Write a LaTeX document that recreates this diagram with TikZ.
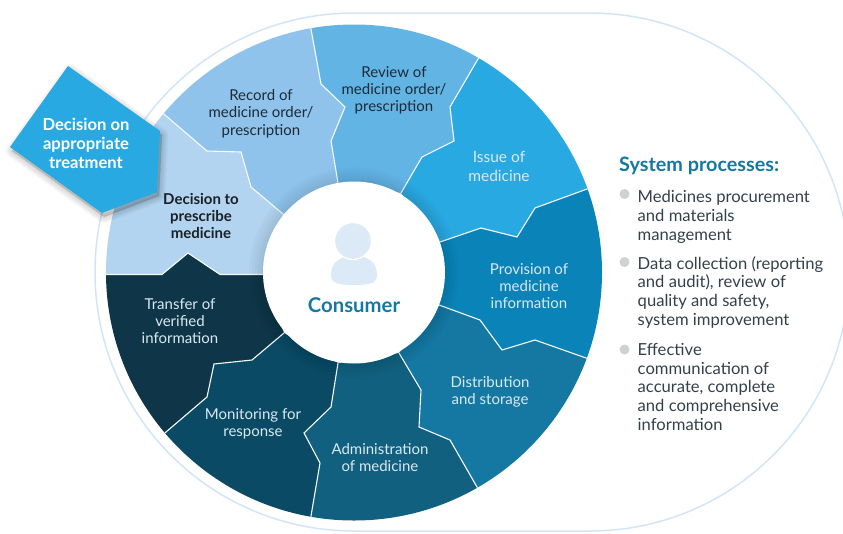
\documentclass[tikz,border=0pt]{standalone}
\usepackage{fontspec}
\setmainfont{Lato}
\definecolor{secdecision}{HTML}{B2D4F0}
\definecolor{secrecord}{HTML}{8FC3EC}
\definecolor{secreview}{HTML}{62B4E5}
\definecolor{secissue}{HTML}{29A9E1}
\definecolor{secprovision}{HTML}{0A84B8}
\definecolor{secdistribution}{HTML}{1478A3}
\definecolor{secadmin}{HTML}{12607F}
\definecolor{secmonitor}{HTML}{0B4A64}
\definecolor{sectransfer}{HTML}{0F3648}
\definecolor{ringline}{HTML}{D3E5F5}
\definecolor{iconblue}{HTML}{DCE9F7}
\definecolor{bulletgrey}{HTML}{CFD1D3}
\definecolor{textdark}{HTML}{1C2B36}
\definecolor{textlight}{HTML}{D8E9F1}
\tikzset{
  sepline/.style={draw=white!90!secdecision, line width=1.1pt, line join=miter},
  seclabel/.style={align=center, font=\fontsize{15}{17.3}\selectfont, inner sep=0pt},
  listitem/.style={align=left, anchor=north west, inner sep=0pt, text=textdark!90!white,
    font=\fontsize{16.6}{18.8}\selectfont},
  bulletdot/.style={circle, fill=bulletgrey, minimum size=10pt, inner sep=0pt}
}
\begin{document}
\begin{tikzpicture}[x=1pt, y=-1pt]
  \useasboundingbox (0,0) rectangle (843,533);

  % Outer stadium line
  \draw[ringline, line width=1.5pt] (354,13) -- (590,13) arc[start angle=90, delta angle=-180, radius=259pt]
    -- (354,531) arc[start angle=270, delta angle=-180, radius=259pt];

  % Boundaries between sectors: far point, rim, bends, hub
  \path (118,76) coordinate (b10) (165,115) coordinate (b11) (207,151) coordinate (b12) (241,152) coordinate (b13) (251,187) coordinate (b14) (283,214) coordinate (b15);
  \path (300,-32) coordinate (b20) (311,29) coordinate (b21) (321,84) coordinate (b22) (345,107) coordinate (b23) (331,141) coordinate (b24) (338,183) coordinate (b25);
  \path (509,6) coordinate (b30) (478,59) coordinate (b31) (450,107) coordinate (b32) (454,141) coordinate (b33) (422,157) coordinate (b34) (401,193) coordinate (b35);
  \path (645,168) coordinate (b40) (587,189) coordinate (b41) (535,208) coordinate (b42) (517,237) coordinate (b43) (481,228) coordinate (b44) (440,242) coordinate (b45);
  \path (644,379) coordinate (b50) (586,358) coordinate (b51) (535,340) coordinate (b52) (502,350) coordinate (b53) (480,320) coordinate (b54) (439,305) coordinate (b55);
  \path (508,541) coordinate (b60) (477,487) coordinate (b61) (450,440) coordinate (b62) (419,427) coordinate (b63) (421,390) coordinate (b64) (399,353) coordinate (b65);
  \path (300,577) coordinate (b70) (311,516) coordinate (b71) (320,463) coordinate (b72) (304,433) coordinate (b73) (331,407) coordinate (b74) (338,363) coordinate (b75);
  \path (119,472) coordinate (b80) (166,432) coordinate (b81) (207,397) coordinate (b82) (214,364) coordinate (b83) (252,360) coordinate (b84) (284,333) coordinate (b85);
  \path (44,274.5) coordinate (b90) (106,274.5) coordinate (b91) (162,274.5) coordinate (b92) (188,253) coordinate (b93) (220,274.5) coordinate (b94) (263,274.5) coordinate (b95);

  % Sectors, cut to the disc
  \begin{scope}
    \clip (354,272.5) circle (248pt);
    \foreach \i/\j/\col in {1/2/secrecord, 2/3/secreview, 3/4/secissue, 4/5/secprovision, 5/6/secdistribution,
        6/7/secadmin, 7/8/secmonitor, 8/9/sectransfer, 9/1/secdecision}
      \fill[\col] (b\i0) -- (b\i1) -- (b\i2) -- (b\i3) -- (b\i4) -- (b\i5)
        -- (b\j5) -- (b\j4) -- (b\j3) -- (b\j2) -- (b\j1) -- (b\j0) -- cycle;
    \foreach \i in {1,...,9}
      \draw[sepline] (b\i0) -- (b\i1) -- (b\i2) -- (b\i3) -- (b\i4) -- (b\i5);
    % Soft shade round the hub
    \foreach \r in {93,96,...,105}
      \fill[black, opacity=.018] (354,272.5) circle (\r pt);
  \end{scope}

  % Hub
  \fill[white] (354,272.5) circle (91pt);
  \fill[iconblue] (331,275) .. controls (331,262) and (340,256) .. (354,256)
    .. controls (368,256) and (377,262) .. (377,275)
    .. controls (377,283) and (370,285) .. (354,285)
    .. controls (338,285) and (331,283) .. (331,275) -- cycle;
  \filldraw[fill=iconblue, draw=white, line width=1.2pt] (353,241) circle (18.5pt);
  \node[font=\fontsize{20.3}{22}\selectfont\bfseries, text=secdistribution, inner sep=0pt] (consumer) at (354,305.5) {Consumer};

  % Sector labels
  \node[seclabel, text=textdark] (record) at (261,113.5) {Record of\\medicine order/\\prescription};
  \node[seclabel, text=textdark] (review) at (394,90.5) {Review of\\medicine order/\\prescription};
  \node[seclabel, text=textlight, font=\fontsize{15.5}{19}\selectfont] (issue) at (499,166) {Issue of\\medicine};
  \node[seclabel, text=textlight] (provision) at (529,286) {Provision of\\medicine\\information};
  \node[seclabel, text=textlight] (distribution) at (490,392) {Distribution\\and storage};
  \node[seclabel, text=textlight] (admin) at (380,457.5) {Administration\\of medicine};
  \node[seclabel, text=textlight] (monitor) at (253,423.5) {Monitoring for\\response};
  \node[seclabel, text=textlight] (transfer) at (180,321) {Transfer of\\verified\\information};
  \node[seclabel, text=black!85!secdecision, font=\fontsize{15}{17.3}\selectfont\bfseries] (prescribe) at (201,216) {Decision to\\prescribe\\medicine};

  % Callout with its shadow
  \foreach \w in {1,3,...,13}
    \draw[black, opacity=.025, line width=\w pt, line join=round, fill=black]
      (70,70) -- (162,135) -- (159,196) -- (104,217) -- (12,151) -- cycle;
  \fill[secissue] (68,66) coordinate (p1) -- (160,131) coordinate (p2) -- (157,192) coordinate (p3)
    -- (102,213) coordinate (p4) -- (10,147) coordinate (p5) -- cycle;
  \node[seclabel, text=white, font=\fontsize{16.6}{19}\selectfont\bfseries] (treatment) at (86,143.5) {Decision on\\appropriate\\treatment};

  % System processes
  \node[anchor=west, inner sep=0pt, text=secdistribution, font=\fontsize{19.8}{22}\selectfont\bfseries] (heading) at (619,165.5) {System processes:};
  \node[bulletdot] (dot1) at (624.5,194) {};
  \node[bulletdot] (dot2) at (624.5,262) {};
  \node[bulletdot] (dot3) at (624.5,349.5) {};
  \node[listitem] (item1) at (637.5,190) {Medicines procurement\\and materials\\management};
  \node[listitem] (item2) at (637.5,256) {Data collection (reporting\\and audit), review of\\quality and safety,\\system improvement};
  \node[listitem] (item3) at (637.5,343) {Effective\\communication of\\accurate, complete\\and comprehensive\\information};
\end{tikzpicture}
\end{document}
